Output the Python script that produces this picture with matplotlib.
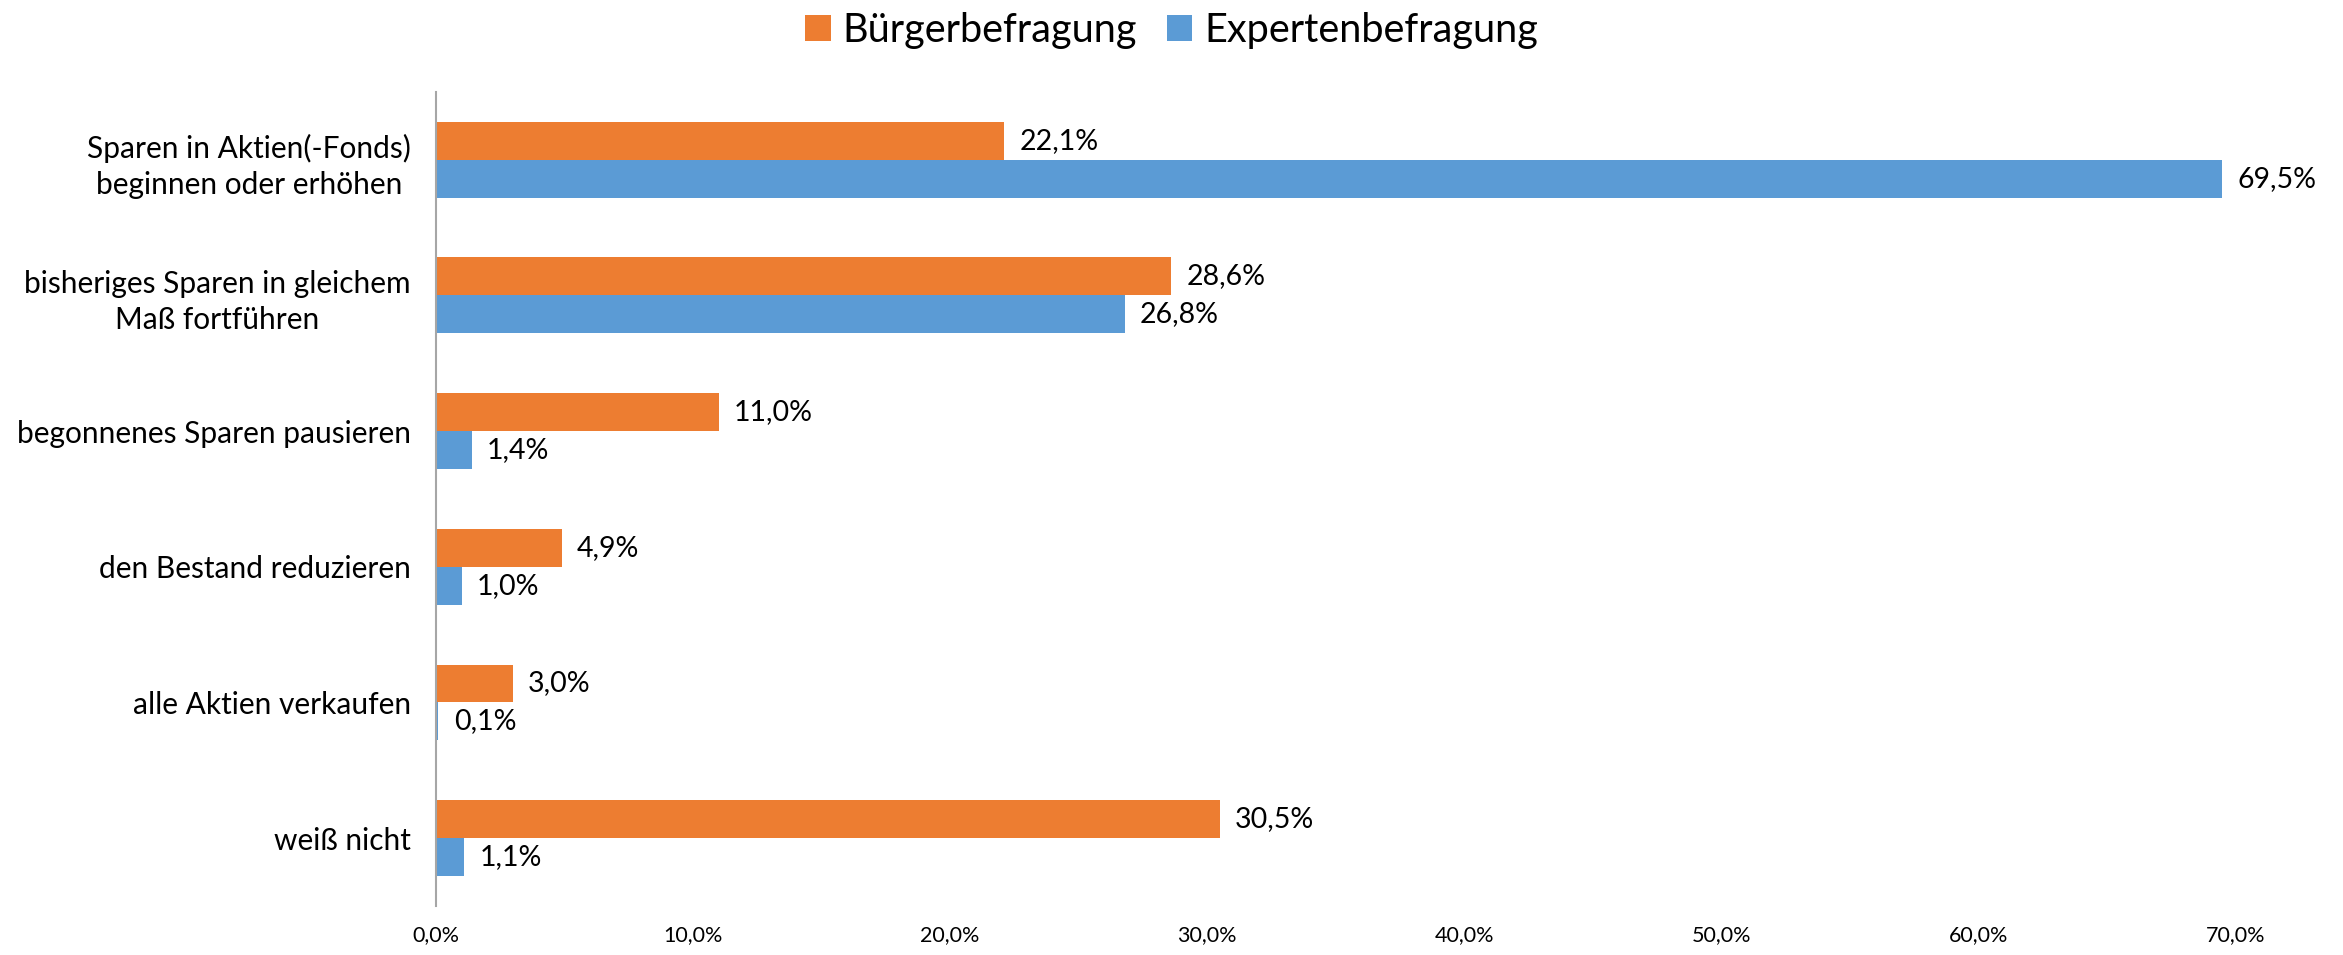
import matplotlib.pyplot as plt
import numpy as np

plt.rcParams['font.family'] = ['Lato', 'DejaVu Sans']

categories = [
    "Sparen in Aktien(-Fonds)\nbeginnen oder erhöhen",
    "bisheriges Sparen in gleichem\nMaß fortführen",
    "begonnenes Sparen pausieren",
    "den Bestand reduzieren",
    "alle Aktien verkaufen",
    "weiß nicht",
]
buerger = [22.1, 28.6, 11.0, 4.9, 3.0, 30.5]
experten = [69.5, 26.8, 1.4, 1.0, 0.1, 1.1]
series_names = ["Bürgerbefragung", "Expertenbefragung"]
xticks = [0, 10, 20, 30, 40, 50, 60, 70]

orange = "#ED7D31"
blue = "#5B9BD5"

fig = plt.figure(figsize=(23.43, 9.55), dpi=100)
ax = fig.add_axes([0.186, 0.0513, 0.954 - 0.186, 0.9037 - 0.0513])

y = np.arange(len(categories))
h = 0.28
b1 = ax.barh(y - h / 2, buerger, height=h, color=orange, label=series_names[0])
b2 = ax.barh(y + h / 2, experten, height=h, color=blue, label=series_names[1])

def fmt(v):
    return f"{v:.1f}".replace(".", ",") + "%"

for bars, vals in ((b1, buerger), (b2, experten)):
    for rect, v in zip(bars, vals):
        ax.annotate(fmt(v), (rect.get_width(), rect.get_y() + rect.get_height() / 2),
                    xytext=(11, 0), textcoords="offset points",
                    ha="left", va="center", fontsize=20.5)

ax.set_xlim(0, 70)
ax.set_ylim(len(categories) - 0.5, -0.5)
ax.set_yticks(y)
ax.set_yticklabels(categories, fontsize=21.5, multialignment="center",
                   linespacing=1.35)
ax.set_xticks(xticks)
ax.set_xticklabels([fmt(t) for t in xticks], fontsize=15.5)
ax.tick_params(axis="y", length=0, pad=18)
ax.tick_params(axis="x", length=0, pad=14)

for s in ("top", "right", "bottom"):
    ax.spines[s].set_visible(False)
ax.spines["left"].set_color("#A6A6A6")
ax.spines["left"].set_linewidth(1.5)

fig.legend(loc="upper center", bbox_to_anchor=(0.5, 1.025), ncol=2, frameon=False,
           fontsize=28.5, handlelength=0.65, handleheight=0.65, handletextpad=0.3,
           columnspacing=0.75)

fig.savefig("out.png", dpi=100)
